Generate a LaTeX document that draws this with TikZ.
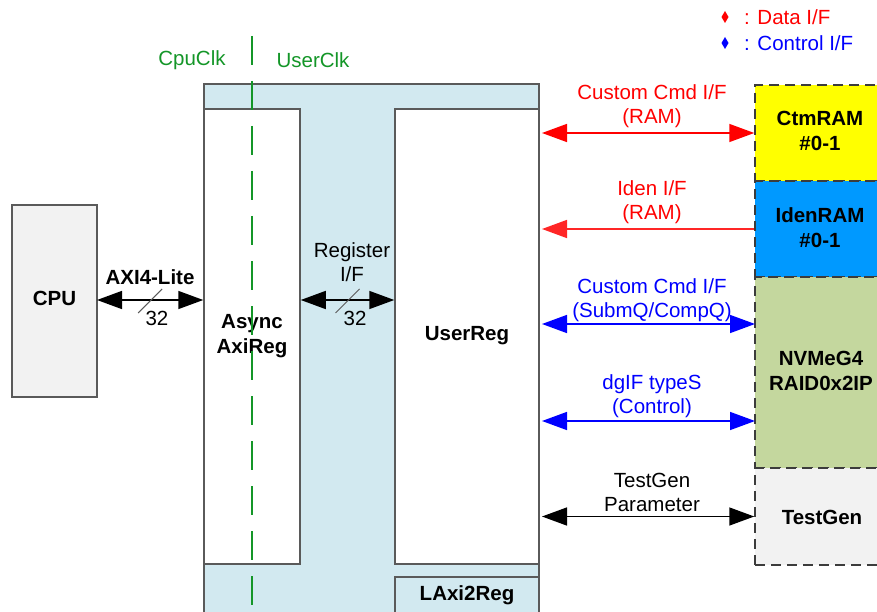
\documentclass[tikz,border=0pt]{standalone}
\usepackage{fontspec}
\setmainfont{Liberation Sans}
\usetikzlibrary{arrows.meta,calc}
\definecolor{lblue}{RGB}{210,233,240}
\definecolor{clkgreen}{RGB}{20,150,40}
\definecolor{ctmyellow}{RGB}{255,255,0}
\definecolor{idenblue}{RGB}{0,153,255}
\definecolor{nvmegreen}{RGB}{196,215,158}
\definecolor{lgray}{RGB}{242,242,242}
\definecolor{edgegray}{RGB}{90,90,90}
\definecolor{dashgray}{RGB}{60,60,60}
\definecolor{datared}{RGB}{255,0,0}
\definecolor{ctrlblue}{RGB}{0,0,255}
\tikzset{
  lbl/.style={font=\fontsize{20.5}{24}\selectfont, align=center, inner sep=0pt},
  blbl/.style={font=\fontsize{20.5}{25}\selectfont\bfseries, align=center, inner sep=0pt},
  solidbox/.style={draw=edgegray, line width=1.5pt, rectangle, inner sep=0pt},
  dashbox/.style={draw=dashgray, line width=1.5pt, dash pattern=on 10pt off 6pt, rectangle, inner sep=0pt},
  >={Triangle[length=25pt,width=18pt]},
  dbl/.style={line width=1.5pt, <->},
  sgl/.style={line width=1.5pt, <-},
  slash/.style={line width=1pt, edgegray},
}
\begin{document}
\begin{tikzpicture}[x=1pt,y=-1pt]
\path[use as bounding box, clip] (0,0) rectangle (877,612);
\fill[white] (0,0) rectangle (877,612);

% LAxi2Reg big block
\node[solidbox, fill=lblue, minimum width=335, minimum height=566] (laxi) at (371.5,367) {};
\node[solidbox, fill=white, minimum width=96, minimum height=455] (async) at (252,336.5) {};
\node[solidbox, fill=white, minimum width=144, minimum height=455] (userreg) at (467,336.5) {};
\node[solidbox, fill=lblue, minimum width=144, minimum height=40] (laxilbl) at (467,597) {};
\node[blbl] (laxitxt) at (467,595) {LAxi2Reg};
\node[blbl] (asynctxt) at (252,336) {Async\\AxiReg};
\node[blbl] (usertxt) at (467,336) {UserReg};

% clock domain line
\coordinate (clktop) at (252,36);
\coordinate (clkbot) at (252,620);
\draw[clkgreen, line width=1.5pt, dash pattern=on 29pt off 16pt] (clktop) -- (clkbot);
\node[lbl, text=clkgreen] (cpuclk) at (192,60) {CpuClk};
\node[lbl, text=clkgreen] (userclk) at (313,60) {UserClk};

% CPU
\node[solidbox, fill=lgray, minimum width=85, minimum height=192] (cpu) at (54.5,301) {};
\node[blbl] (cputxt) at (54.5,298) {CPU};

% AXI4-Lite
\coordinate (axiL) at (97,300);
\draw[dbl, black] (axiL) -- (axiL -| async.west) coordinate[midway] (axiM);
\draw[slash] ($(axiM)+(-12,13)$) -- ($(axiM)+(12,-11)$);
\node[blbl] (axitxt) at (150,277) {AXI4-Lite};
\node[lbl] (axi32) at (157,318) {32};

% Register I/F
\draw[dbl, black] (async.east |- axiL) -- (userreg.west |- axiL) coordinate[midway] (regM);
\draw[slash] ($(regM)+(-12,13)$) -- ($(regM)+(12,-11)$);
\node[lbl] (regtxt) at (352,262) {Register\\I/F};
\node[lbl] (reg32) at (355,318) {32};

% right blocks
\node[dashbox, fill=ctmyellow, minimum width=132, minimum height=96] (ctm) at (821,133) {};
\node[dashbox, fill=idenblue, minimum width=132, minimum height=96] (iden) at (821,229) {};
\node[dashbox, fill=nvmegreen, minimum width=132, minimum height=191] (nvme) at (821,372.5) {};
\node[dashbox, fill=lgray, minimum width=132, minimum height=97] (tg) at (821,516.5) {};
\node[blbl] (ctmtxt) at (820,131) {CtmRAM\\\#0-1};
\node[blbl] (identxt) at (820,228) {IdenRAM\\\#0-1};
\node[blbl] (nvmetxt) at (821,371) {NVMeG4\\RAID0x2IP};
\node[blbl] (tgtxt) at (822,517) {TestGen};

% connectors to right blocks
\coordinate (ctmA) at (ctm.west);
\coordinate (idenA) at (iden.west);
\coordinate (nvmeA) at (755,324);
\coordinate (nvmeB) at (755,421);
\coordinate (tgA) at (tg.west);
\coordinate (urx) at (542,0);

\draw[dbl, datared] (urx |- ctmA) -- (ctmA);
\node[lbl, text=datared] (ctmlbl) at (652,106) {Custom Cmd I/F\\(RAM)};

\draw[sgl, datared!85] (urx |- idenA) -- (idenA);
\node[lbl, text=datared] (idenlbl) at (652,202) {Iden I/F\\(RAM)};

\draw[dbl, ctrlblue] (urx |- nvmeA) -- (nvmeA);
\node[lbl, text=ctrlblue] (nvmelblA) at (652,300) {Custom Cmd I/F\\(SubmQ/CompQ)};

\draw[dbl, ctrlblue] (urx |- nvmeB) -- (nvmeB);
\node[lbl, text=ctrlblue] (nvmelblB) at (652,396) {dgIF typeS\\(Control)};

\draw[dbl, black] (urx |- tgA) -- (tgA);
\node[lbl] (tglbl) at (652,492) {TestGen\\Parameter};

% legend
\fill[datared] (725,11) -- (728.5,17) -- (725,23) -- (721.5,17) -- cycle;
\fill[ctrlblue] (725,37) -- (728.5,43) -- (725,49) -- (721.5,43) -- cycle;
\node[lbl, text=datared, anchor=west] (legd) at (744,17) {: Data I/F};
\node[lbl, text=ctrlblue, anchor=west] (legc) at (744,43) {: Control I/F};
\end{tikzpicture}
\end{document}
